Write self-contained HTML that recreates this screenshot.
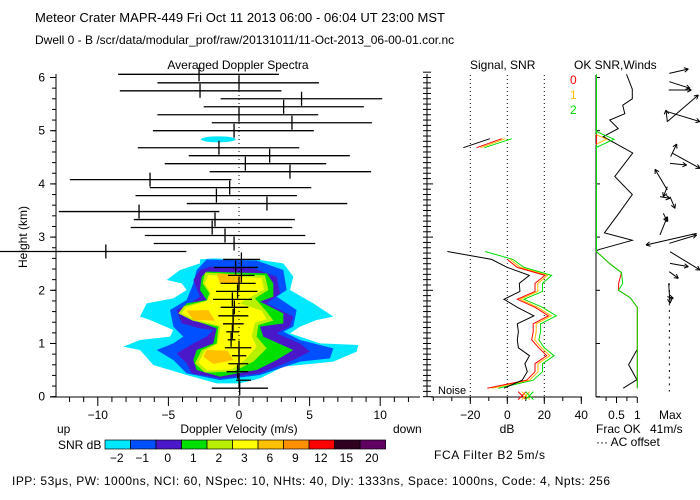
<!DOCTYPE html>
<html><head><meta charset="utf-8"><style>
body{margin:0;background:#fff;width:700px;height:500px;overflow:hidden}
svg{display:block;font-family:"Liberation Sans",sans-serif;font-size:12px}
</style></head><body>
<svg id="c" width="700" height="500" viewBox="0 0 700 500">
<text x="35" y="22" font-size="13" textLength="410" lengthAdjust="spacing">Meteor Crater   MAPR-449   Fri Oct 11 2013 06:00 - 06:04 UT 23:00 MST</text>
<text x="35" y="44" font-size="12">Dwell  0 -  B   /scr/data/modular_prof/raw/20131011/11-Oct-2013_06-00-01.cor.nc</text>
<text x="238" y="69" text-anchor="middle">Averaged Doppler Spectra</text>
<text x="470" y="69">Signal, SNR</text>
<text x="574" y="69">OK SNR,Winds</text>
<text x="570" y="84" fill="#f00">0</text>
<text x="570" y="99" fill="#fb0">1</text>
<text x="570" y="114" fill="#0d0">2</text>
<g transform="translate(0,50) scale(0.33333)">
<polygon fill="#00e8ff" points="600,628 640,625 780,630 850,640 880,680 870,720 940,760 1000,800 950,810 900,830 870,850 960,880 1075,885 1070,905 1000,935 850,950 780,985 720,1000 650,1000 560,975 510,960 460,945 420,900 370,890 420,870 510,860 520,840 450,810 420,800 440,760 520,745 560,720 545,700 500,690 540,660 600,640"/>
<ellipse cx="655" cy="268" rx="52" ry="9" fill="#00e8ff"/>
<polygon fill="#0050ff" points="620,628 770,632 850,660 860,720 830,740 890,780 880,830 850,845 900,870 1000,895 990,925 900,935 780,975 660,990 560,970 520,930 470,900 520,880 550,860 520,830 510,780 560,750 580,700 590,660"/>
<polygon fill="#4a18c8" points="630,650 760,655 830,680 840,730 800,760 880,800 870,830 830,850 900,880 930,905 880,930 780,970 660,985 575,970 560,940 530,910 580,880 620,860 640,840 600,835 545,820 530,780 570,760 600,740 580,690 600,660"/>
<polygon fill="#00e000" points="620,665 800,670 820,700 820,740 780,755 850,790 850,820 780,830 790,860 880,900 830,930 770,960 660,980 590,960 580,930 590,900 640,880 650,835 580,810 540,790 560,760 620,750 600,720 605,680"/>
<polygon fill="#b8f000" points="615,668 795,676 805,720 765,745 800,785 820,812 775,825 770,860 800,895 760,935 700,965 615,968 585,940 605,900 650,880 655,830 578,812 535,790 552,768 620,752 628,730 608,700"/>
<polygon fill="#ffff00" points="625,675 785,684 792,718 755,740 720,760 785,782 800,808 765,818 755,858 770,890 735,930 695,958 622,962 595,938 615,902 652,882 662,828 582,808 545,790 558,772 622,752 632,730 614,700"/>
<polygon fill="#ffc000" points="650,670 730,675 720,702 660,700"/>
<polygon fill="#ffc000" points="560,782 625,780 645,812 580,810"/>
<polygon fill="#ffc000" points="620,900 682,902 700,930 640,942 610,920"/>
</g>
<g id="axes" stroke="#000" fill="none"></g>
<g id="marks"></g>
<g id="txt"></g>
<text x="438" y="394" font-size="11">Noise</text>
<text x="507" y="433" text-anchor="middle">dB</text>
<text x="596" y="433">Frac OK</text>
<text x="596" y="446">··· AC offset</text>
<text x="659" y="419">Max</text>
<text x="650" y="433">41m/s</text>
<text x="239" y="433" text-anchor="middle">Doppler Velocity (m/s)</text>
<text x="57" y="433">up</text>
<text x="393" y="433">down</text>
<text x="58" y="449">SNR dB</text>
<text x="27" y="237" text-anchor="middle" transform="rotate(-90 27 237)">Height (km)</text>
<text x="434" y="459" textLength="111" lengthAdjust="spacing">FCA Filter B2   5m/s</text>
<text x="12" y="485" font-size="12" textLength="598" lengthAdjust="spacing">IPP: 53μs,  PW: 1000ns,  NCI: 60,  NSpec: 10,  NHts: 40,  Dly: 1333ns,  Space: 1000ns,  Code: 4,  Npts: 256</text>
</svg>
<script>
const heights=[6.06,5.90,5.75,5.60,5.45,5.30,5.15,5.00,4.68,4.53,4.38,4.23,4.08,3.93,3.78,3.63,3.48,3.33,3.18,3.03,2.88,2.73,2.58,2.43,2.28,2.13,1.98,1.83,1.68,1.52,1.37,1.22,1.07,0.92,0.77,0.62,0.47,0.31,0.16];
const velCenter=[-2.83,0,-2.76,4.43,3.16,0,3.75,-0.35,-1.42,2.17,0.45,3.61,-6.3,-0.66,-1.6,1.98,-7.08,-1.7,-1.9,-0.99,-0.35,-9.43,0.17,-0.24,0.17,0,-0.1,-0.47,-0.33,-0.42,-0.42,-0.47,-0.56,0,0,0,-0.1,0,0.05];
const velLeft=[-8.56,-5.78,-8.44,-1.3,-2.5,-5.78,-1.93,-6.1,-7.17,-3.56,-5.26,-2.08,-11.98,-6.32,-7.33,-3.7,-12.76,-7.45,-7.67,-6.67,-6.04,-17,-1.13,-1.77,-0.78,-1.3,-1.63,-1.84,-1.3,-1.46,-1.13,-0.9,-0.8,-1,-0.5,-0.75,-0.87,-0.2,-1.93];
const velRight=[2.83,5.66,3.0,10.14,8.84,5.61,9.41,5.3,4.27,7.85,6.18,9.36,-0.54,5.12,4.1,7.67,-1.39,3.96,3.77,4.7,5.4,-3.73,1.5,1.34,1.1,1.18,1.3,0.92,0.66,0.66,0.33,0,-0.26,0.87,0.52,0.66,0.66,0.85,2.05];
const snrHeights=[2.73,2.58,2.43,2.28,2.13,1.98,1.83,1.68,1.52,1.37,1.22,1.07,0.92,0.77,0.62,0.47,0.31,0.16];
const signalDb=[-32.4,-8.5,0,11.9,6.5,6.8,-1.8,5.4,14.4,5.4,6,5.4,6,12,9.5,10.8,8,-1.8];
const snr0=[null,0,5.4,20.4,15,15,5.4,15,22.2,14,14,13.2,17,21.3,15,15,10.5,-10.8];
const snr1=[null,1.5,7,21.8,16.5,16.5,7,16.5,23.8,15.6,15.6,14.8,18.5,23,16.6,16.6,12,-8.5];
const snr2=[-12,3,9,24,19,19,9,19,26.5,18,18,17,20,25.3,19,19,14,-5];
const upperHeights=[4.68,4.85];
const upperSignal=[-23.8,-9.4];
const upperSnr0=[-16.6,-3];
const upperSnr1=[-14.5,-1];
const upperSnr2=[-12.5,2.5];
const fracHeights=[6.06,5.78,5.6,5.48,5.32,5.2,5.04,4.89,4.58,4.14,3.8,3.43,3.08,2.94,2.77,2.74];
const fracBlack=[0.74,0.88,0.88,0.65,0.7,0.34,0.54,0.18,0.89,0.46,0.88,0.54,0.21,0.88,0.1,0];
const fracLowH=[0.88,0.6,0.32,0.16];
const fracLowV=[0.99,0.79,0.99,0.66];
const okHeights=[2.74,2.5,2.33,2.13,2.0,1.86,1.68,0.16];
const okGreen=[0,0.34,0.62,0.65,0.55,0.83,1,1];
const okRed=[0,0.34,0.62,0.55,0.55,0.83,1,1];
const cbLabels=["−2","−1","0","1","2","3","6","9","12","15","20"];
const cbColors=["#00e8ff","#0050ff","#4a18c8","#00e000","#b8f000","#ffff00","#ffc000","#ff9000","#ff0000","#300020","#600060"];
const xTicks=[-10,-5,0,5,10];
const yTicks=[0,1,2,3,4,5,6];
const dbTicks=[-20,0,20,40];

const NS="http://www.w3.org/2000/svg";
const X=v=>239+14.12*v, Y=h=>396.7-53.2*h, D=d=>507.3+1.85*d, F=f=>595.7+41.6*f;
const svg=document.getElementById('c'), ax=document.getElementById('axes'), mk=document.getElementById('marks'), tx=document.getElementById('txt');
function el(t,p,a){const e=document.createElementNS(NS,t);for(const k in a)e.setAttribute(k,a[k]);p.appendChild(e);return e;}
function line(p,x1,y1,x2,y2,extra){return el('line',p,Object.assign({x1,y1,x2,y2,stroke:'#000','stroke-width':1},extra||{}));}
function text(x,y,s,anchor){const t=el('text',tx,{x,y,'text-anchor':anchor||'middle'});t.textContent=s;return t;}

line(ax,56,74,56,397);line(ax,50,397,420,397);
for(let v=-12;v<=12;v++){line(ax,X(v),397,X(v),v%5===0?406:402);}
for(const v of xTicks){const t=text(X(v),419,v<0?'−'+(-v):String(v));}
for(let h=0;h<=6.05;h+=0.2){line(ax,52,Y(h),56,Y(h));}
for(const h of yTicks){line(ax,50,Y(h),56,Y(h));const t=text(45,Y(h)+4,String(h),'end');}
line(ax,427,74,427,397);
for(let h=0;h<=6.1;h+=0.1){line(ax,427,Y(h),h%1<0.05?433:431,Y(h));line(ax,423,Y(h),427,Y(h));}
line(ax,239,75,239,397,{'stroke-dasharray':'1,3'});
for(let i=0;i<heights.length;i++){
 const y=Y(heights[i]);
 const b=line(mk,Math.max(0,X(velLeft[i])),y,X(velRight[i]),y,{'stroke-width':1.3});
 
 
 const c=line(mk,X(velCenter[i]),y-7,X(velCenter[i]),y+7,{'stroke-width':1.3});
 
 
}
const cw=(385.6-105)/cbColors.length;
for(let i=0;i<cbColors.length;i++){
 const r=el('rect',svg,{x:105+i*cw,y:440,width:cw,height:9,fill:cbColors[i],stroke:'#000','stroke-width':0.7});
 
 
 const t=text(105+i*cw+cw/2-1,462,cbLabels[i]);
 
 
}
line(ax,431,397,582,397);
for(let d=-40;d<=40;d+=10)line(ax,D(d),397,D(d),401);
for(const d of dbTicks){line(ax,D(d),397,D(d),404);const t=text(D(d),419,d<0?'−'+(-d):String(d));}
for(const d of [-20,0,20])line(ax,D(d),75,D(d),397,{'stroke-dasharray':'1,3'});
function poly(hs,vs,fx,color,name){
 let pts=[];for(let i=0;i<hs.length;i++){if(vs[i]===null)continue;pts.push(fx(vs[i]).toFixed(1)+','+Y(hs[i]).toFixed(1));}
 const p=el('polyline',mk,{points:pts.join(' '),fill:'none',stroke:color,'stroke-width':1});
 
 
}
poly(snrHeights,snr2,D,'#00dd00','snr-2-line');
poly(snrHeights,snr1,D,'#ffbb00','snr-1-line');
poly(snrHeights,snr0,D,'#ff0000','snr-0-line');
poly(snrHeights,signalDb,D,'#000','signal-line');
poly(upperHeights,upperSnr2,D,'#00dd00','snr-2-upper');
poly(upperHeights,upperSnr1,D,'#ffbb00','snr-1-upper');
poly(upperHeights,upperSnr0,D,'#ff0000','snr-0-upper');
poly(upperHeights,upperSignal,D,'#000','signal-upper');
for(const [dx,col] of [[8,'#f00'],[10,'#fb0'],[12,'#0d0']]){line(mk,D(dx)-4,Y(0.02)+4,D(dx)+4,Y(0.02)-4,{stroke:col});line(mk,D(dx)-4,Y(0.02)-4,D(dx)+4,Y(0.02)+4,{stroke:col});}
line(ax,596,75,596,397);line(ax,596,397,637,397);
for(let h=0;h<=6;h+=1)line(ax,596,Y(h),600,Y(h));
for(const f of [0.25,0.5,0.75,1])line(ax,F(f),397,F(f),f===0.5||f===1?403:401);
text(F(0.5),419,'0.5');text(F(1),419,'1');
poly(fracHeights,fracBlack,F,'#000','frac-ok-upper');
poly(fracLowH,fracLowV,F,'#000','frac-ok-lower');
line(mk,596.5,Y(6.06),596.5,Y(2.74),{stroke:'#00dd00'});
el('polyline',mk,{points:`${F(0)},${Y(4.99)} ${F(0.44)},${Y(4.84)} ${F(0)},${Y(4.68)}`,fill:'none',stroke:'#00dd00'});
el('polyline',mk,{points:`${F(0)},${Y(4.93)} ${F(0.26)},${Y(4.84)} ${F(0)},${Y(4.74)}`,fill:'none',stroke:'#fb0'});
line(mk,F(0.02),Y(4.93),F(0.02),Y(4.74),{stroke:'#f00'});
poly(okHeights,okRed,F,'#ff0000','ok-snr-0');
poly(okHeights,okGreen,F,'#00dd00','ok-snr-2');
const wg=el('g',mk,{transform:'translate(430,50) scale(0.33333)',stroke:'#000','stroke-width':3,fill:'none'});


const winds=[[718,70,775,57],[718,95,780,115],[716,120,784,120],[712,215,805,135],[712,215,708,180],[712,185,810,215],[722,320,740,282],[720,340,770,345],[728,310,810,355],[712,420,675,358],[712,410,700,440],[720,440,735,475],[690,440,720,445],[700,490,712,515],[690,555,712,500],[800,550,648,585],[718,580,800,555],[720,605,810,660],[720,640,775,650],[718,665,745,685],[712,740,730,745],[716,700,720,760]];
for(const w of winds){el('line',wg,{x1:w[0],y1:w[1],x2:w[2],y2:w[3]});const a=Math.atan2(w[3]-w[1],w[2]-w[0]);for(const s of[0.5,-0.5])el('line',wg,{x1:w[2],y1:w[3],x2:w[2]-14*Math.cos(a+s),y2:w[3]-14*Math.sin(a+s)});}
el('line',wg,{x1:718,y1:700,x2:718,y2:1025,'stroke-dasharray':'6,14'});
</script>
</body></html>
